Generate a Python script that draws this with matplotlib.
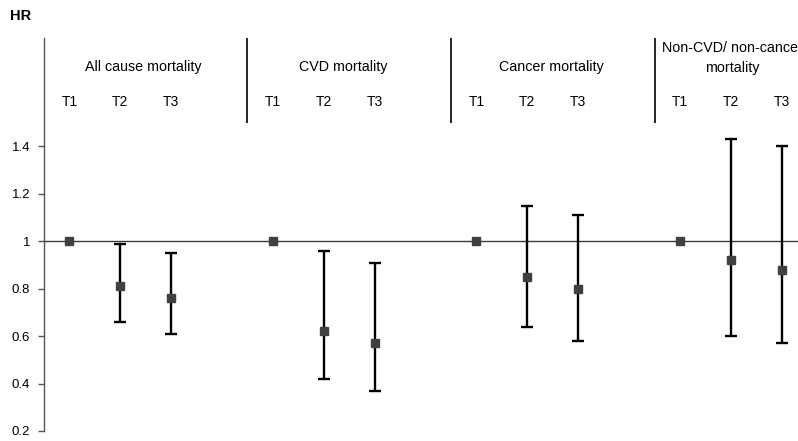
import matplotlib
matplotlib.use('Agg')
import matplotlib.pyplot as plt
import numpy as np

plt.rcParams['font.family'] = ['Liberation Sans', 'DejaVu Sans']

groups = ['All cause mortality', 'CVD mortality', 'Cancer mortality',
          'Non-CVD/ non-cancer\nmortality']
tertiles = ['T1', 'T2', 'T3']

# HR with 95% CI, per group: T1, T2, T3
hr = [[1.0, 0.81, 0.76],
      [1.0, 0.62, 0.57],
      [1.0, 0.85, 0.80],
      [1.0, 0.92, 0.88]]
ci_low = [[1.0, 0.66, 0.61],
          [1.0, 0.42, 0.37],
          [1.0, 0.64, 0.58],
          [1.0, 0.60, 0.57]]
ci_high = [[1.0, 0.99, 0.95],
           [1.0, 0.96, 0.91],
           [1.0, 1.15, 1.11],
           [1.0, 1.43, 1.40]]

fig = plt.figure(figsize=(7.98, 4.41), dpi=100)
ax = fig.add_axes([0.0551, 0.0227, 0.9449, 0.8911])

ymin, ymax = 0.2, 1.857
ax.set_ylim(ymin, ymax)
ax.set_xlim(-0.5, 14.32)

ax.axhline(1.0, color='#3a3a3a', lw=1.0, zorder=1)

title_x = [1.46, 5.38, 9.47, 13.03]
for g in range(len(groups)):
    xs = np.arange(3) + 4 * g
    y = np.array(hr[g])
    lo = y - np.array(ci_low[g])
    hi = np.array(ci_high[g]) - y
    # error bars only where a CI exists
    has_ci = (lo > 0) | (hi > 0)
    ax.errorbar(xs[has_ci], y[has_ci], yerr=[lo[has_ci], hi[has_ci]], fmt='none',
                ecolor='black', elinewidth=1.7, capsize=4.3, capthick=1.7, zorder=2)
    ax.plot(xs, y, 's', color='#404040', ms=6, zorder=3, mec='#404040')

    for i, t in enumerate(tertiles):
        ax.text(xs[i], 1.588, t, ha='center', va='center', fontsize=10)
    if '\n' in groups[g]:
        ax.text(title_x[g], 1.773, groups[g], ha='center', va='center', fontsize=10.3,
                linespacing=1.55, clip_on=False)
    else:
        ax.text(title_x[g], 1.735, groups[g], ha='center', va='center', fontsize=10.3)

    if g > 0:
        ax.plot([4 * g - 0.5, 4 * g - 0.5], [1.5, ymax], color='black', lw=1.2,
                solid_capstyle='butt', clip_on=False)

ax.set_yticks([0.2, 0.4, 0.6, 0.8, 1.0, 1.2, 1.4])
ax.set_yticklabels(['0.2', '0.4', '0.6', '0.8', '1', '1.2', '1.4'])
ax.tick_params(axis='y', length=4, width=1, color='#555555', labelsize=9.5, pad=6)
ax.set_xticks([])

for s in ['top', 'right', 'bottom']:
    ax.spines[s].set_visible(False)
ax.spines['left'].set_color('#555555')
ax.spines['left'].set_linewidth(1.0)

fig.text(0.013, 0.963, 'HR', fontsize=10.5, fontweight='bold', va='center', ha='left')

fig.savefig('out.png', dpi=100)
